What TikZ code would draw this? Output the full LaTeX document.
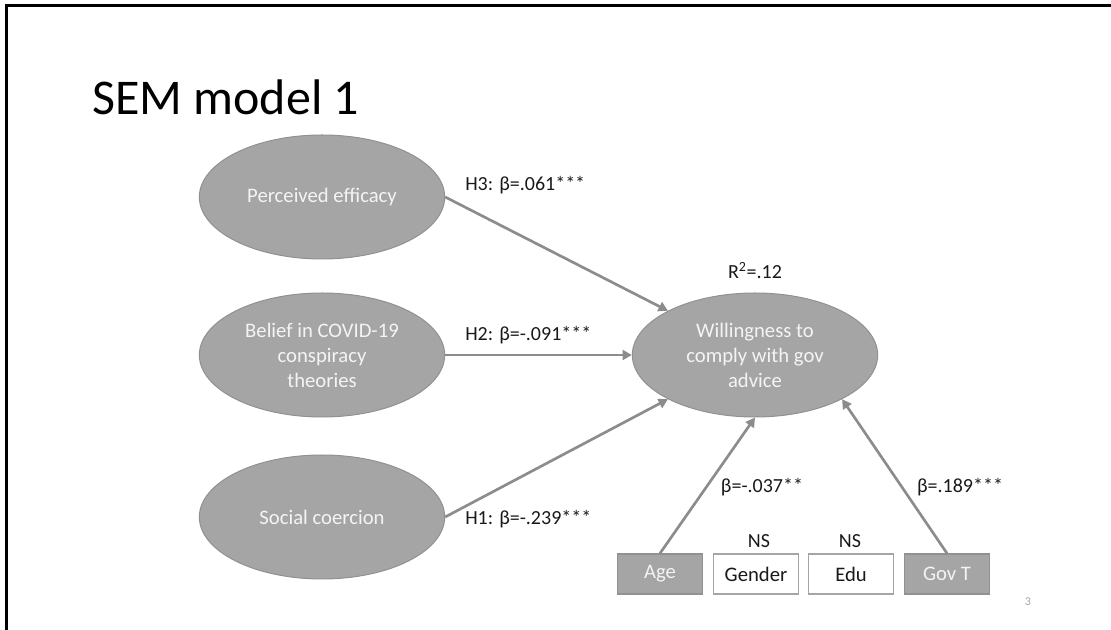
\documentclass[tikz,border=0pt]{standalone}
\usepackage{fontspec}
\setmainfont{Carlito}
\usetikzlibrary{shapes.geometric,arrows.meta}
\definecolor{ovalfill}{RGB}{165,165,165}
\definecolor{ovaledge}{RGB}{145,145,145}
\definecolor{linkgray}{RGB}{140,140,140}
\definecolor{txtwhite}{RGB}{244,244,244}
\definecolor{txtdark}{RGB}{25,25,25}

\begin{document}
\begin{tikzpicture}[x=0.75pt,y=-0.75pt,
    latent/.style={ellipse,fill=ovalfill,draw=ovaledge,line width=0.75pt,
        minimum width=184pt,minimum height=93pt,inner sep=0pt,align=center,
        text=txtwhite,font=\fontsize{15.5}{18.75}\selectfont},
    ctrlon/.style={rectangle,fill=ovalfill,draw=ovaledge,line width=1pt,
        minimum width=64pt,minimum height=30pt,inner sep=0pt,
        text=txtwhite,font=\fontsize{15.5}{18}\selectfont},
    ctrloff/.style={ctrlon,fill=white,draw=ovalfill,text=txtdark},
    link/.style={draw=linkgray,line width=2pt,-{Triangle[length=7pt,width=7.5pt]}},
    coef/.style={text=txtdark,font=\fontsize{15}{18}\selectfont,inner sep=0pt}]
    \useasboundingbox (0,0) rectangle (1111,630);
    \draw[line width=2pt] (6.5,630) -- (6.5,5.5) -- (1111,5.5); % slide frame

    \node[anchor=base west,inner sep=0pt,font=\fontsize{37.5}{45}\selectfont] (title) at (92,115) {SEM model 1};

    \node[latent] (eff) at (322,197) {Perceived efficacy};
    \node[latent] (consp) at (322,355) {Belief in COVID-19\\conspiracy\\theories};
    \node[latent] (coerc) at (322,517) {Social coercion};
    \node[latent] (comply) at (755,355) {Willingness to\\comply with gov\\advice};

    \node[ctrlon] (age) at (660,574) {Age};
    \node[ctrloff] (gender) at (756,574) {Gender};
    \node[ctrloff] (edu) at (851,574) {Edu};
    \node[ctrlon] (govt) at (947,574) {Gov T};

    \draw[link] (eff.east) -- (comply.north west);
    \draw[link] (consp.east) -- (comply.west);
    \draw[link] (coerc.east) -- (comply.south west);
    \draw[link] (age.north) -- (comply.south);
    \draw[link] (govt.north) -- (comply.south east);

    \node[coef,anchor=west] (h3) at (465,185) {H3: β=.061***};
    \node[coef,anchor=west] (h2) at (465,335) {H2: β=-.091***};
    \node[coef,anchor=west] (h1) at (465,519) {H1: β=-.239***};
    \node[coef] (rsq) at (755,271) {R\textsuperscript{2}=.12};
    \node[coef] (bage) at (762,487) {β=-.037**};
    \node[coef] (bgov) at (960,487) {β=.189***};
    \node[coef] (nsgen) at (759,541) {NS};
    \node[coef] (nsedu) at (850,541) {NS};

    \node[text=gray!70,font=\fontsize{9}{11}\selectfont] (slideno) at (1028,602) {3};
\end{tikzpicture}
\end{document}
